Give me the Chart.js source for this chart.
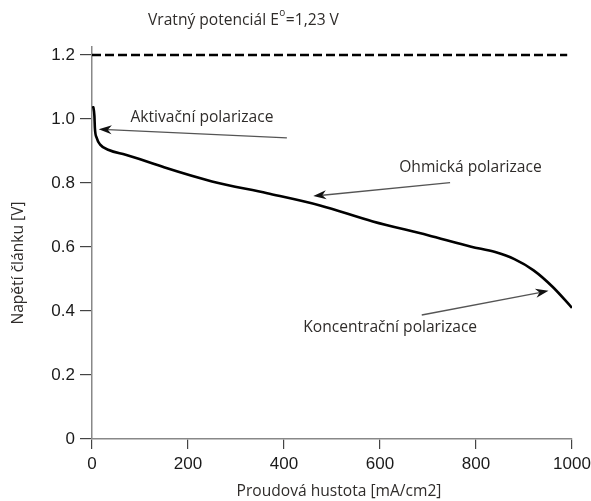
<!DOCTYPE html>
<html>
<head>
<meta charset="utf-8">
<script src="https://cdn.jsdelivr.net/npm/chart.js@4/dist/chart.umd.min.js"></script>
<style>
  html, body { margin: 0; padding: 0; background: #fff; }
  #wrap { width: 591px; height: 501px; }
</style>
</head>
<body>
<div id="wrap"><canvas id="myChart" width="591" height="501"></canvas></div>
<script>
// polarizacni krivka clanku
const proud = [1, 3, 5, 6, 10, 17, 35, 70, 125, 150, 250, 365, 475, 585, 700, 790, 840, 880, 920, 960, 1000]
const napeti = [1.04, 1.035, 1.01, 0.972, 0.94, 0.92, 0.903, 0.888, 0.862, 0.849, 0.805, 0.768, 0.73, 0.68, 0.637, 0.601, 0.584, 0.562, 0.527, 0.475, 0.41]

// vratny potencial
const vratnyX = [0, 990]
const vratnyY = [1.2, 1.2]

const xTicks = [0, 200, 400, 600, 800, 1000]
const yTicks = [0, 0.2, 0.4, 0.6, 0.8, 1.0, 1.2]

// popisky a sipky (v souradnicich grafu)
const popisky = ['Aktivační polarizace', 'Ohmická polarizace', 'Koncentrační polarizace']
const popiskyX = [80, 640, 440]
const popiskyY = [1.006, 0.847, 0.347]
const sipkyOd = [[406, 0.941], [746, 0.801], [687, 0.3875]]
const sipkyDo = [[14, 0.968], [461, 0.759], [951, 0.463]]

const textFont = '"Open Sans", "Noto Sans", sans-serif'
const textSize = 15.6
const tickFont = { family: '"Liberation Sans", Arial, sans-serif', size: 17 }

function sipka(ctx, x1, y1, x2, y2) {
  const ang = Math.atan2(y2 - y1, x2 - x1),
    len = 13,
    w = 4.5
  ctx.strokeStyle = '#555'
  ctx.lineWidth = 1.3
  ctx.beginPath()
  ctx.moveTo(x1, y1)
  ctx.lineTo(x2 - Math.cos(ang) * len * 0.7, y2 - Math.sin(ang) * len * 0.7)
  ctx.stroke()
  ctx.save()
  ctx.translate(x2, y2)
  ctx.rotate(ang)
  ctx.fillStyle = '#111'
  ctx.beginPath()
  ctx.moveTo(0, 0)
  ctx.lineTo(-len, -w)
  ctx.lineTo(-len * 0.7, 0)
  ctx.lineTo(-len, w)
  ctx.closePath()
  ctx.fill()
  ctx.restore()
}

const popiskyPlugin = {
  id: 'popisky',
  afterDraw(chart) {
    const ctx = chart.ctx,
      xs = chart.scales.x,
      ys = chart.scales.y
    ctx.save()

    for (let i = 0; i < sipkyOd.length; i++) {
      sipka(ctx,
        xs.getPixelForValue(sipkyOd[i][0]), ys.getPixelForValue(sipkyOd[i][1]),
        xs.getPixelForValue(sipkyDo[i][0]), ys.getPixelForValue(sipkyDo[i][1]))
    }

    ctx.fillStyle = '#2f2c2a'
    ctx.font = textSize + 'px ' + textFont
    ctx.textAlign = 'left'
    ctx.textBaseline = 'middle'
    for (let i = 0; i < popisky.length; i++) {
      ctx.fillText(popisky[i], xs.getPixelForValue(popiskyX[i]), ys.getPixelForValue(popiskyY[i]))
    }

    // nadpis s hornim indexem
    let x = 148
    const y = 21
    ctx.fillText('Vratný potenciál E', x, y)
    x += ctx.measureText('Vratný potenciál E').width
    ctx.font = '10px ' + textFont
    ctx.fillText('o', x + 0.5, y - 8)
    x += ctx.measureText('o').width + 1
    ctx.font = textSize + 'px ' + textFont
    ctx.fillText('=1,23 V', x, y)

    // popisy os
    ctx.textAlign = 'center'
    ctx.fillText('Proudová hustota [mA/cm2]', 339, 492)
    ctx.translate(19, 263)
    ctx.rotate(-Math.PI / 2)
    ctx.fillText('Napětí článku [V]', 0, 0)

    ctx.restore()
  }
}

const ctx = document.getElementById('myChart').getContext('2d'),
  chart = new Chart(ctx, {
    type: 'scatter',
    data: {
      datasets: [
        {
          data: proud.map((v, i) => ({ x: v, y: napeti[i] })),
          showLine: true,
          borderColor: '#000',
          borderWidth: 2.6,
          pointRadius: 0,
          cubicInterpolationMode: 'monotone'
        },
        {
          data: vratnyX.map((v, i) => ({ x: v, y: vratnyY[i] })),
          showLine: true,
          borderColor: '#000',
          borderWidth: 2.6,
          borderDash: [9, 4],
          pointRadius: 0
        }
      ]
    },
    options: {
      responsive: false,
      animation: false,
      layout: { padding: { top: 47, right: 19, left: 0, bottom: 0 } },
      plugins: { legend: { display: false }, tooltip: { enabled: false } },
      scales: {
        x: {
          type: 'linear',
          min: 0,
          max: 1000,
          afterBuildTicks: s => { s.ticks = xTicks.map(v => ({ value: v })) },
          afterFit: s => { s.height = 62; s.paddingRight = 0 },
          grid: { drawOnChartArea: false, tickLength: 10, color: '#444', lineWidth: 1.2 },
          border: { color: '#888', width: 1.5 },
          ticks: {
            font: tickFont,
            color: '#1a1a1a',
            padding: 5,
            maxRotation: 0,
            autoSkip: false,
            callback: v => String(v)
          }
        },
        y: {
          min: 0,
          max: 1.225,
          afterBuildTicks: s => { s.ticks = yTicks.map(v => ({ value: v })) },
          afterFit: s => { s.width = 92 },
          grid: { drawOnChartArea: false, tickLength: 12, color: '#444', lineWidth: 1.2 },
          border: { color: '#888', width: 1.5 },
          ticks: {
            font: tickFont,
            color: '#1a1a1a',
            padding: 5,
            callback: v => (v === 0 ? '0' : v.toFixed(1))
          }
        }
      }
    },
    plugins: [popiskyPlugin]
  })
</script>
</body>
</html>
